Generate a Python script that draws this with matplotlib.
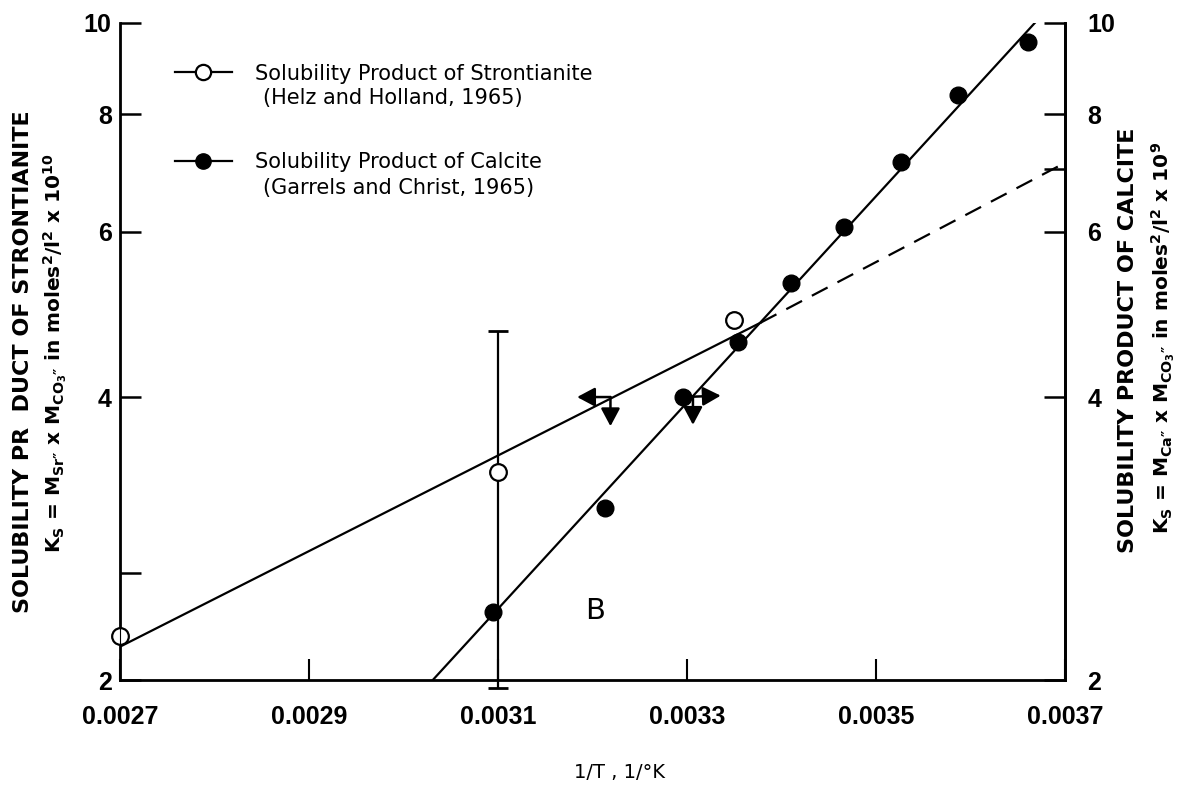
import matplotlib.pyplot as plt
import matplotlib.transforms as mtransforms
from matplotlib.lines import Line2D
from matplotlib.ticker import FixedLocator, NullLocator, FixedFormatter

# Strontianite solubility product (open circles), K_s x 10^10
sr_x = [0.0027, 0.0031, 0.00335]
sr_y = [2.23, 3.33, 4.83]
sr_err_x = 0.0031
sr_err_lo = 1.96
sr_err_hi = 4.70
# fitted line (solid) and its extrapolation (dashed)
sr_fit_x = [0.0027, 0.003378]
sr_fit_y = [2.17, 4.80]
sr_ext_x = [0.003378, 0.0037]
sr_ext_y = [4.80, 7.1]
# bound marker on the strontianite line
sr_bound = (0.003219, 4.0)

# Calcite solubility product (filled circles), K_s x 10^9
ca_x = [0.003095, 0.003213, 0.003296, 0.003354, 0.00341, 0.003466, 0.003526, 0.003587, 0.003661]
ca_y = [2.36, 3.05, 4.0, 4.58, 5.29, 6.07, 7.12, 8.38, 9.54]
ca_bound_idx = 2
ca_fit_x = [0.003031, 0.003668]
ca_fit_y = [2.0, 10.0]

x_ticks = [0.0027, 0.0029, 0.0031, 0.0033, 0.0035, 0.0037]
left_ticks = [2, 2.6, 4, 6, 8, 10]
left_labels = ['2', '', '4', '6', '8', '10']
right_ticks = [2, 4, 6, 7, 8, 10]
right_labels = ['2', '4', '6', '', '8', '10']

label_font = ['Liberation Sans', 'DejaVu Sans']
text_font = ['DejaVu Sans']

fig = plt.figure(figsize=(11.86, 7.9), dpi=100)
ax = fig.add_axes([120 / 1186, 1 - 680 / 790, 945 / 1186, 657 / 790])
ax.set_yscale('log')
ax.set_xlim(0.0027, 0.0037)
ax.set_ylim(2, 10)

lw = 1.6
# strontianite
ax.plot(sr_fit_x, sr_fit_y, color='black', lw=lw)
ax.plot(sr_ext_x, sr_ext_y, color='black', lw=lw, linestyle=(0, (8, 5)))
ax.errorbar([sr_err_x], [sr_y[1]],
            yerr=[[sr_y[1] - sr_err_lo], [sr_err_hi - sr_y[1]]],
            fmt='none', ecolor='black', elinewidth=1.6, capsize=7, capthick=2,
            clip_on=False, zorder=2)
ax.plot(sr_x, sr_y, 'o', ms=12, mfc='white', mec='black', mew=1.6, zorder=4, clip_on=False)

# calcite
ax.plot(ca_fit_x, ca_fit_y, color='black', lw=lw)
ax.plot(ca_x, ca_y, 'o', ms=12, mfc='black', mec='black', zorder=4, clip_on=False)

arrow_kw = dict(arrowstyle='<|-,head_length=0.6,head_width=0.32', color='black',
                lw=1.8, shrinkA=0, shrinkB=0, mutation_scale=18)
# bound arrows on strontianite line: left and down
ax.annotate('', xy=sr_bound, xytext=(-24, 0), textcoords='offset points', arrowprops=arrow_kw)
ax.annotate('', xy=sr_bound, xytext=(0, -21), textcoords='offset points', arrowprops=arrow_kw)
# bound arrows on calcite point: right and down
cb = (ca_x[ca_bound_idx], ca_y[ca_bound_idx])
ax.annotate('', xy=cb, xytext=(27, 1), textcoords='offset points', arrowprops=arrow_kw)
shift = mtransforms.offset_copy(ax.transData, fig=fig, x=7, y=0, units='points')
ax.annotate('', xy=cb, xycoords=shift, xytext=(0, -20), textcoords='offset points',
            arrowprops=arrow_kw)

ax.text(0.003203, 2.37, 'B', fontsize=21, family=text_font, ha='center', va='center')

# axes styling
for side in ['left', 'right', 'bottom', 'top']:
    ax.spines[side].set_linewidth(2)
ax.spines['top'].set_visible(False)
ax.xaxis.set_major_locator(FixedLocator(x_ticks))
ax.set_xticklabels(['%.4f' % v for v in x_ticks])
ax.yaxis.set_major_locator(FixedLocator(left_ticks))
ax.yaxis.set_major_formatter(FixedFormatter(left_labels))
ax.yaxis.set_minor_locator(NullLocator())
ax.tick_params(axis='x', direction='in', length=15, width=1.5, pad=18, labelsize=18)
ax.tick_params(axis='y', direction='in', length=15, width=1.8, pad=6, labelsize=18)
for lab in ax.get_xticklabels() + ax.get_yticklabels():
    lab.set_family(label_font)
    lab.set_fontweight('bold')

ax2 = ax.twinx()
ax2.set_yscale('log')
ax2.set_ylim(2, 10)
ax2.spines['top'].set_visible(False)
ax2.spines['right'].set_linewidth(2)
ax2.yaxis.set_major_locator(FixedLocator(right_ticks))
ax2.yaxis.set_major_formatter(FixedFormatter(right_labels))
ax2.yaxis.set_minor_locator(NullLocator())
ax2.tick_params(axis='y', direction='in', length=15, width=1.8, pad=16, labelsize=18)
for lab in ax2.get_yticklabels():
    lab.set_family(label_font)
    lab.set_fontweight('bold')

# legend: one row per series, citation set underneath
handles = [
    Line2D([], [], color='black', lw=1.6, marker='o', ms=11, mfc='white', mec='black', mew=1.6),
    Line2D([], [], color='black', lw=1.6, marker='o', ms=11, mfc='black', mec='black'),
]
labels = ['Solubility Product of Strontianite', 'Solubility Product of Calcite']
ax.legend(handles, labels, loc='upper left', bbox_to_anchor=(0.058, 0.938),
          frameon=False, borderpad=0, borderaxespad=0, handlelength=2.75,
          handletextpad=1.1, labelspacing=3.3,
          prop={'family': text_font, 'size': 15})
ax.text(0.151, 0.886, '(Helz and Holland, 1965)', transform=ax.transAxes,
        va='center', ha='left', fontsize=15, family=text_font)
ax.text(0.151, 0.749, '(Garrels and Christ, 1965)', transform=ax.transAxes,
        va='center', ha='left', fontsize=15, family=text_font)

# axis titles
fig.text(23 / 1186, 1 - 362 / 790, 'SOLUBILITY PR  DUCT OF STRONTIANITE', rotation=90,
         ha='center', va='center', fontsize=16, fontweight='bold', family=text_font)
fig.text(55 / 1186, 1 - 353 / 790,
         r'K$_\mathregular{S}$ = M$_\mathregular{Sr″}$ x M$_\mathregular{CO_3″}$ in moles$^\mathregular{2}$/l$^\mathregular{2}$ x 10$^\mathregular{10}$',
         rotation=90, ha='center', va='center', fontsize=14.5, fontweight='bold', family=text_font)
fig.text(1128 / 1186, 1 - 340 / 790, 'SOLUBILITY PRODUCT OF CALCITE', rotation=90,
         ha='center', va='center', fontsize=16, fontweight='bold', family=text_font)
fig.text(1163 / 1186, 1 - 338 / 790,
         r'K$_\mathregular{S}$ = M$_\mathregular{Ca″}$ x M$_\mathregular{CO_3″}$ in moles$^\mathregular{2}$/l$^\mathregular{2}$ x 10$^\mathregular{9}$',
         rotation=90, ha='center', va='center', fontsize=14.5, fontweight='bold', family=text_font)
fig.text(620 / 1186, 1 - 773 / 790, '1/T , 1/°K', ha='center', va='center',
         fontsize=14, family=text_font)

fig.savefig('out.png', dpi=100)
